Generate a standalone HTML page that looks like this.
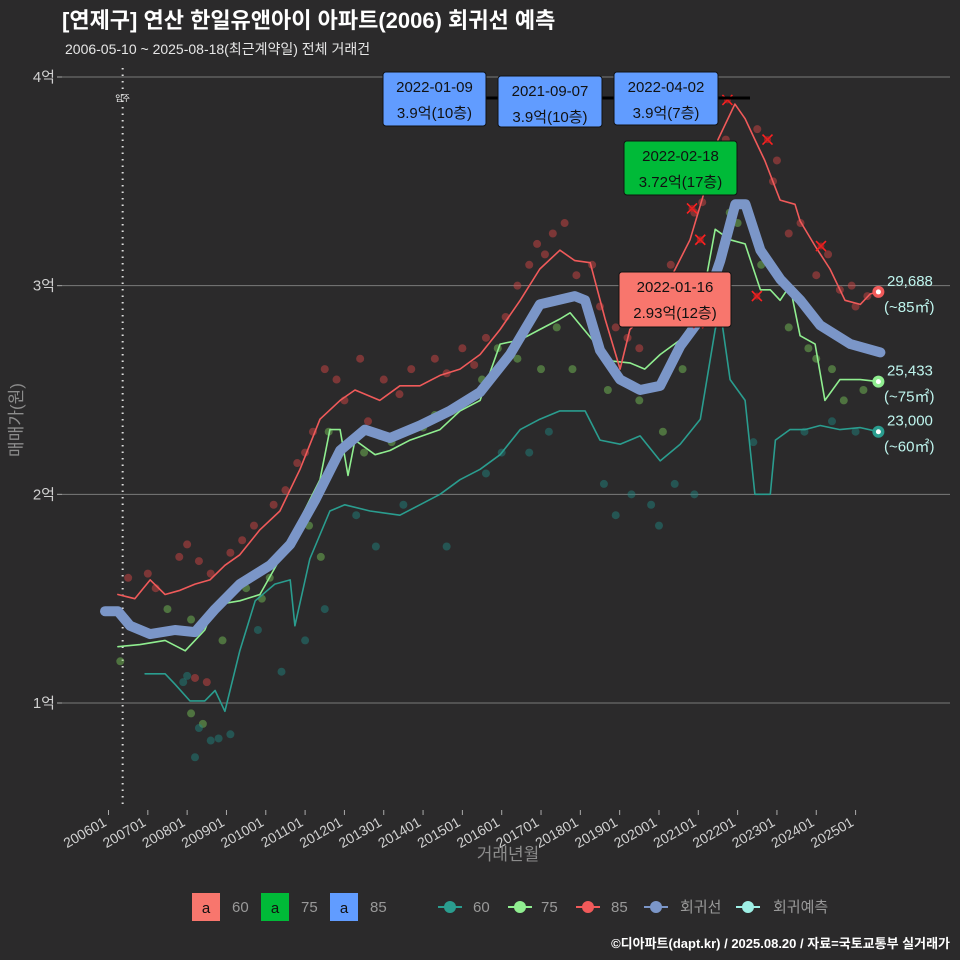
<!DOCTYPE html>
<html><head><meta charset="utf-8">
<style>
html,body{margin:0;padding:0;background:#2b2a2b;overflow:hidden;width:960px;height:960px;}
svg{display:block;}
svg text{font-family:"Liberation Sans","Noto Sans CJK KR",sans-serif;}
</style></head>
<body>
<svg id="c" width="960" height="960" xmlns="http://www.w3.org/2000/svg">
<rect width="960" height="960" fill="#2b2a2b"/>
<text x="62" y="28" font-size="22" font-weight="bold" fill="#ffffff">[연제구] 연산 한일유앤아이 아파트(2006) 회귀선 예측</text>
<text x="65" y="54" font-size="14" fill="#e6e6e6">2006-05-10 ~ 2025-08-18(최근계약일) 전체 거래건</text>
<g id="grid"></g><g id="axes"></g><g id="marks"></g><g id="ann"></g>
<text transform="translate(22,420) rotate(-90)" text-anchor="middle" font-size="17" fill="#8c8c8c">매매가(원)</text>
<text x="508" y="860" text-anchor="middle" font-size="17" fill="#8c8c8c">거래년월</text>
<g font-size="15">
<rect x="192" y="893" width="28" height="28" fill="#f8766d"/><text x="206" y="913" text-anchor="middle" fill="#111">a</text><text x="232" y="912" fill="#999">60</text>
<rect x="261" y="893" width="28" height="28" fill="#00ba38"/><text x="275" y="913" text-anchor="middle" fill="#111">a</text><text x="301" y="912" fill="#999">75</text>
<rect x="330" y="893" width="28" height="28" fill="#619cff"/><text x="344" y="913" text-anchor="middle" fill="#111">a</text><text x="370" y="912" fill="#999">85</text>
<line x1="438" y1="907" x2="462" y2="907" stroke="#2a9d8f" stroke-width="2"/><circle cx="450" cy="907" r="6" fill="#2a9d8f"/><text x="473" y="912" fill="#999">60</text>
<line x1="508" y1="907" x2="532" y2="907" stroke="#90ee90" stroke-width="2"/><circle cx="520" cy="907" r="6" fill="#90ee90"/><text x="541" y="912" fill="#999">75</text>
<line x1="576" y1="907" x2="600" y2="907" stroke="#f05a5a" stroke-width="2"/><circle cx="588" cy="907" r="6" fill="#f05a5a"/><text x="611" y="912" fill="#999">85</text>
<line x1="644" y1="907" x2="668" y2="907" stroke="#7b96c8" stroke-width="2"/><circle cx="656" cy="907" r="6" fill="#7b96c8"/><text x="680" y="912" fill="#999">회귀선</text>
<line x1="736" y1="907" x2="760" y2="907" stroke="#9ef0e6" stroke-width="2"/><circle cx="748" cy="907" r="6" fill="#9ef0e6"/><text x="773" y="912" fill="#999">회귀예측</text>
</g>
<text x="950" y="948" text-anchor="end" font-size="13" font-weight="bold" fill="#fff">©디아파트(dapt.kr) / 2025.08.20 / 자료=국토교통부 실거래가</text>
</svg>
<script>
const yTicks=[1,2,3,4];
const xTickYears=[2006,2007,2008,2009,2010,2011,2012,2013,2014,2015,2016,2017,2018,2019,2020,2021,2022,2023,2024,2025];
const regT=[2005.91,2006.24,2006.55,2007.06,2007.69,2008.2,2008.71,2009.34,2010.11,2010.62,2011.25,2011.89,2012.52,2013.16,2013.92,2014.68,2015.45,2016.21,2016.97,2017.86,2018.12,2018.5,2019.01,2019.52,2020.03,2020.54,2021.05,2021.56,2021.94,2022.2,2022.58,2023.09,2023.6,2024.1,2024.87,2025.63];
const regV=[1.44,1.44,1.37,1.33,1.35,1.34,1.45,1.57,1.66,1.76,1.97,2.21,2.31,2.27,2.33,2.40,2.49,2.67,2.91,2.95,2.93,2.69,2.55,2.50,2.52,2.71,2.84,3.12,3.39,3.39,3.17,3.03,2.93,2.81,2.72,2.68];
const redT=[2006.24,2006.67,2007.06,2007.44,2007.82,2008.2,2008.58,2008.96,2009.34,2009.85,2010.36,2010.87,2011.38,2011.89,2012.27,2012.9,2013.41,2013.92,2014.43,2014.94,2015.45,2015.96,2016.47,2016.97,2017.48,2017.86,2018.25,2018.63,2019.01,2019.26,2019.77,2020.28,2020.79,2021.17,2021.5,2021.93,2022.19,2022.44,2022.69,2023.08,2023.46,2023.59,2023.97,2024.35,2024.73,2025.12,2025.37,2025.58];
const redV=[1.52,1.50,1.59,1.52,1.54,1.57,1.59,1.66,1.71,1.83,1.92,2.12,2.36,2.45,2.50,2.45,2.52,2.52,2.57,2.60,2.67,2.79,2.93,3.08,3.17,3.12,3.11,2.84,2.60,2.79,2.88,3.03,3.22,3.46,3.70,3.87,3.80,3.70,3.60,3.41,3.39,3.31,3.19,3.08,2.93,2.91,2.96,2.97];
const grnT=[2006.24,2006.8,2007.44,2007.95,2008.45,2008.71,2009.34,2009.85,2010.36,2010.87,2011.38,2011.63,2011.89,2012.09,2012.27,2012.78,2013.16,2013.67,2014.43,2014.94,2015.45,2015.96,2016.47,2016.97,2017.48,2017.74,2018.75,2019.26,2019.64,2020.03,2020.54,2021.05,2021.43,2021.81,2022.19,2022.58,2022.83,2023.08,2023.33,2023.59,2023.97,2024.22,2024.6,2025.12,2025.58];
const grnV=[1.27,1.28,1.30,1.25,1.35,1.47,1.49,1.52,1.69,1.88,2.07,2.31,2.31,2.09,2.26,2.19,2.21,2.26,2.31,2.40,2.45,2.72,2.74,2.79,2.84,2.87,2.64,2.63,2.60,2.67,2.74,2.88,3.27,3.22,3.20,2.98,2.98,2.93,3.00,2.76,2.72,2.45,2.55,2.55,2.54];
const tealT=[2006.93,2007.44,2007.69,2008.07,2008.45,2008.71,2008.96,2009.34,2009.73,2010.23,2010.62,2010.74,2011.12,2011.63,2012.01,2012.65,2013.41,2013.92,2014.43,2014.94,2015.45,2015.96,2016.47,2016.97,2017.48,2018.12,2018.5,2019.01,2019.52,2020.03,2020.54,2021.05,2021.43,2021.56,2021.81,2022.19,2022.44,2022.83,2022.96,2023.33,2023.71,2024.1,2024.6,2025.12,2025.58];
const tealV=[1.14,1.14,1.09,1.01,1.01,1.06,0.96,1.25,1.49,1.57,1.59,1.37,1.69,1.92,1.95,1.92,1.90,1.95,2.00,2.07,2.12,2.19,2.31,2.36,2.40,2.40,2.26,2.24,2.28,2.16,2.24,2.36,2.79,2.88,2.55,2.45,2.00,2.00,2.26,2.31,2.31,2.33,2.31,2.32,2.30];
const redPtT=[2006.5,2007.2,2007.8,2008.0,2008.3,2008.6,2009.1,2009.7,2010.2,2010.8,2011.0,2011.5,2011.8,2012.4,2013.0,2013.7,2014.3,2015.0,2015.6,2016.4,2016.9,2017.3,2017.6,2018.3,2018.9,2019.5,2020.1,2020.5,2020.9,2021.4,2021.9,2022.5,2023.0,2023.6,2024.3,2024.9,2025.3,2008.2,2008.5,2012.6,2007.0,2009.4,2010.5,2011.2,2012.0,2013.4,2014.6,2015.3,2016.1,2016.7,2017.1,2017.9,2018.5,2019.2,2019.9,2020.3,2021.1,2021.7,2022.9,2023.3,2024.0,2024.6,2025.0];
const redPtV=[1.6,1.55,1.7,1.76,1.68,1.62,1.72,1.85,1.95,2.15,2.2,2.6,2.55,2.65,2.55,2.6,2.65,2.7,2.75,3.0,3.2,3.25,3.3,3.1,2.8,2.7,2.85,3.0,3.35,3.5,3.6,3.75,3.6,3.3,3.15,3.0,2.95,1.12,1.1,2.35,1.62,1.78,2.02,2.3,2.45,2.48,2.58,2.62,2.85,3.1,3.15,3.05,2.9,2.75,2.95,3.1,3.4,3.7,3.5,3.25,3.05,2.98,2.9];
const grnPtT=[2006.3,2007.5,2008.1,2008.9,2009.5,2010.1,2010.7,2011.1,2011.6,2012.5,2013.2,2014.0,2014.8,2015.5,2016.4,2017.0,2017.8,2018.7,2019.5,2020.1,2020.6,2021.3,2022.0,2022.6,2023.3,2024.0,2024.7,2025.2,2008.1,2008.4,2011.4,2009.9,2012.9,2014.3,2015.9,2017.4,2019.0,2021.8,2023.8,2024.4];
const grnPtV=[1.2,1.45,1.4,1.3,1.55,1.6,1.78,1.85,2.3,2.2,2.25,2.32,2.4,2.55,2.65,2.6,2.6,2.5,2.45,2.3,2.6,3.0,3.3,3.1,2.8,2.65,2.45,2.5,0.95,0.9,1.7,1.5,2.28,2.38,2.7,2.8,2.55,3.35,2.7,2.6];
const tealPtT=[2007.9,2008.0,2008.3,2008.6,2008.2,2009.1,2009.8,2010.4,2011.0,2011.5,2012.8,2013.5,2014.6,2015.6,2016.7,2017.2,2018.6,2019.3,2019.8,2020.4,2020.9,2022.4,2023.7,2024.4,2025.0,2018.9,2008.8,2012.3,2016.0,2020.0];
const tealPtV=[1.1,1.13,0.88,0.82,0.74,0.85,1.35,1.15,1.3,1.45,1.75,1.95,1.75,2.1,2.2,2.3,2.05,2.0,1.95,2.05,2.0,2.25,2.3,2.35,2.3,1.9,0.83,1.9,2.2,1.85];
const xMarkT=[2020.84,2021.05,2021.74,2022.76,2024.12,2022.49,2021.0];
const xMarkV=[3.37,3.22,3.89,3.7,3.19,2.95,2.82];

const xs=t=>108.5+(t-2006)*39.32;
const ys=v=>703-(v-1)*208.67;
const NS="http://www.w3.org/2000/svg";
function mk(parent,tag,attrs){const e=document.createElementNS(NS,tag);for(const k in attrs)e.setAttribute(k,attrs[k]);document.getElementById(parent).appendChild(e);return e;}
yTicks.forEach(v=>{
 const l=mk('grid','line',{x1:62,x2:950,y1:ys(v),y2:ys(v),stroke:'#7a7a7a','stroke-width':1});
 
 
 mk('axes','line',{x1:57,x2:62,y1:ys(v),y2:ys(v),stroke:'#aaa'});
 const t=mk('axes','text',{x:55,y:ys(v)+5,'text-anchor':'end','font-size':15,fill:'#d0d0d0'});
 t.textContent=v+'억';
 
 
});
xTickYears.forEach(yr=>{
 const x=xs(yr);
 mk('axes','line',{x1:x,x2:x,y1:810,y2:815,stroke:'#aaa'});
 const t=mk('axes','text',{x:x-1,y:825,'text-anchor':'end','font-size':14,fill:'#d0d0d0',transform:`rotate(-30 ${x-1} 825)`});
 t.textContent=yr+'01';
 
 
});
const mv=mk('grid','line',{x1:xs(2006.36),x2:xs(2006.36),y1:68,y2:808,stroke:'#ddd','stroke-width':2,'stroke-dasharray':'1.5 5'});


const mvt=mk('grid','text',{x:xs(2006.36),y:101,'text-anchor':'middle','font-size':8,fill:'#fff'});
mvt.textContent='입주';



function pts(T,V,col,name){T.forEach((t,i)=>{const c=mk('marks','circle',{cx:xs(t),cy:ys(V[i]),r:4,fill:col,opacity:0.45});
 
 });}
pts(redPtT,redPtV,'#e04848','point-85');
pts(grnPtT,grnPtV,'#7ccd5c','point-75');
pts(tealPtT,tealPtV,'#1f8a84','point-60');
function line(T,V,col,w,name){const d=T.map((t,i)=>(i?'L':'M')+xs(t).toFixed(1)+','+ys(V[i]).toFixed(1)).join('');
 const p=mk('marks','path',{d:d,fill:'none',stroke:col,'stroke-width':w,'stroke-linejoin':'round','stroke-linecap':'round'});
 
 }
line(tealT,tealV,'#2a9d8f',1.6,'line-60');
line(grnT,grnV,'#90ee90',1.6,'line-75');
line(regT,regV,'#7b96c8',10,'regression-line');
line(redT,redV,'#f05a5a',1.6,'line-85');
xMarkT.forEach((t,i)=>{const x=xs(t),y=ys(xMarkV[i]);
 const p=mk('marks','path',{d:`M${x-5},${y-5}L${x+5},${y+5}M${x-5},${y+5}L${x+5},${y-5}`,stroke:'#ff2020','stroke-width':1.6});
 
 
 mk('marks','circle',{cx:x,cy:y,r:3.5,fill:'#d62020',opacity:0.6});});
const bl=mk('marks','line',{x1:486,x2:750,y1:98,y2:98,stroke:'#000','stroke-width':3});


const endT=[2025.58,2025.58,2025.58];
const endV=[2.97,2.54,2.30];
const endCol=['#f05a5a','#90ee90','#2a9d8f'];
const endLab=['29,688','25,433','23,000'];
const endSz=['(~85㎡)','(~75㎡)','(~60㎡)'];
endT.forEach((t,i)=>{const x=xs(t),y=ys(endV[i]);
 const c=mk('ann','circle',{cx:x,cy:y,r:6,fill:endCol[i]});
 
 
 mk('ann','circle',{cx:x,cy:y,r:2.5,fill:'#fff'});
 const a=mk('ann','text',{x:887,y:y-6,'font-size':15,fill:'#bff5ee'});a.textContent=endLab[i];
 
 
 const b=mk('ann','text',{x:884,y:y+20,'font-size':15,fill:'#bff5ee'});b.textContent=endSz[i];
 
 });
const boxes=[[383,72,103,54,'#619cff','2022-01-09','3.9억(10층)'],[498,76,104,51,'#619cff','2021-09-07','3.9억(10층)'],[614,72,104,53,'#619cff','2022-04-02','3.9억(7층)'],[624,141,113,54,'#00ba38','2022-02-18','3.72억(17층)'],[619,272,112,55,'#f8766d','2022-01-16','2.93억(12층)']];
boxes.forEach(b=>{const r=mk('ann','rect',{x:b[0],y:b[1],width:b[2],height:b[3],rx:3,fill:b[4],stroke:'#111','stroke-width':1});
 
 
 const t1=mk('ann','text',{x:b[0]+b[2]/2,y:b[1]+20,'text-anchor':'middle','font-size':15,fill:'#111'});t1.textContent=b[5];
 const t2=mk('ann','text',{x:b[0]+b[2]/2,y:b[1]+46,'text-anchor':'middle','font-size':15,fill:'#111'});t2.textContent=b[6];});
</script>
</body></html>
